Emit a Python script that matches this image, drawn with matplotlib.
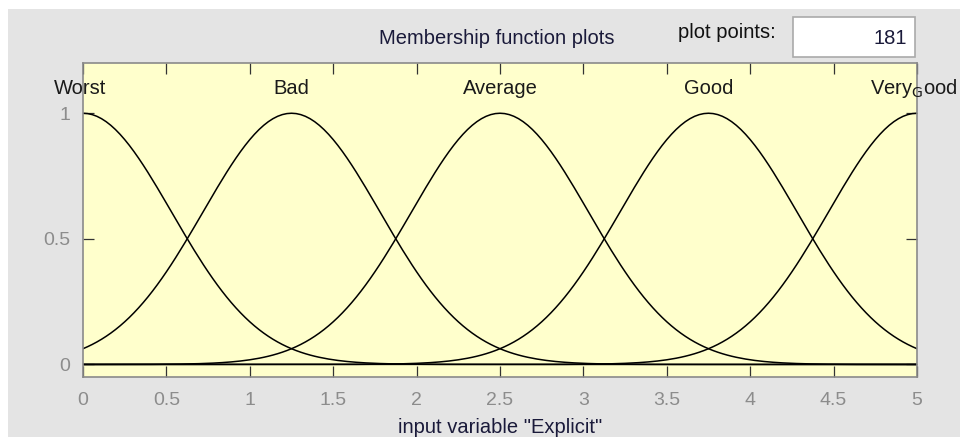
import numpy as np
import matplotlib
matplotlib.use("Agg")
import matplotlib.pyplot as plt
from matplotlib.patches import Rectangle

plt.rcParams['font.family'] = ['Liberation Sans', 'DejaVu Sans']

# Membership functions (Gaussian, from the FIS definition)
mf_names = ["Worst", "Bad", "Average", "Good", r"Very$_{\rm G}$ood"]
mf_centers = [0.0, 1.25, 2.5, 3.75, 5.0]
mf_sigmas = [0.531, 0.531, 0.531, 0.531, 0.531]
x_range = [0.0, 5.0]
n_points = 181
x_ticks = [0, 0.5, 1, 1.5, 2, 2.5, 3, 3.5, 4, 4.5, 5]
y_ticks = [0, 0.5, 1]
title_text = "Membership function plots"
xlabel_text = 'input variable "Explicit"'

W, H = 960, 437
fig = plt.figure(figsize=(W / 100, H / 100), dpi=100)
fig.patch.set_facecolor("white")
# gray panel
fig.patches.append(Rectangle((8 / W, 0), 1 - 8 / W, (H - 9) / H, transform=fig.transFigure,
                             facecolor="#e4e4e4", edgecolor="none", zorder=-10))

ax = fig.add_axes([83 / W, (H - 377) / H, (917 - 83) / W, (377 - 63) / H])
ax.set_facecolor("#ffffcc")
x = np.linspace(x_range[0], x_range[1], n_points)
for c, s in zip(mf_centers, mf_sigmas):
    ax.plot(x, np.exp(-((x - c) ** 2) / (2 * s ** 2)), color="black", lw=1.1)
ax.set_xlim(x_range)
ax.set_ylim(-0.05, 1.2)
ax.set_xticks(x_ticks)
ax.set_xticklabels([f"{t:g}" for t in x_ticks])
ax.set_yticks(y_ticks)
ax.set_yticklabels([f"{t:g}" for t in y_ticks])
ax.tick_params(direction="in", top=True, right=True, length=8, width=0.9,
               labelsize=14, labelcolor="#8c8c8c", color="#333333")
ax.tick_params(axis="x", pad=11)
ax.tick_params(axis="y", pad=9)
for sp in ax.spines.values():
    sp.set_color("#8a8a8a")
    sp.set_linewidth(1.2)

for name, c in zip(mf_names, mf_centers):
    ha = "center"
    xx = c
    if c == x_range[0]:
        xx = c - 0.018
    if c == x_range[1]:
        ha = "left"
        xx = c - 0.282
    ax.text(xx, 1.1, name, ha=ha, va="center", fontsize=14.5, color="#1a1a1a", clip_on=False)

ax.set_xlabel(xlabel_text, fontsize=14.5, color="#1a1a3a", labelpad=6.5)

fig.text(497 / W, 1 - 38 / H, title_text, ha="center", va="center", fontsize=14.5, color="#1a1a3a")
fig.text(727 / W, 1 - 33 / H, "plot points:", ha="center", va="center", fontsize=14.5, color="#111111")
fig.patches.append(Rectangle((793 / W, 1 - 57 / H), (915 - 793) / W, 40 / H, transform=fig.transFigure,
                             facecolor="white", edgecolor="#aaaaaa", lw=1.2, zorder=1))
fig.text(907 / W, 1 - 39 / H, str(n_points), ha="right", va="center", fontsize=14.5, color="#1a1a3a")

fig.savefig("out.png", dpi=100, facecolor=fig.get_facecolor())
